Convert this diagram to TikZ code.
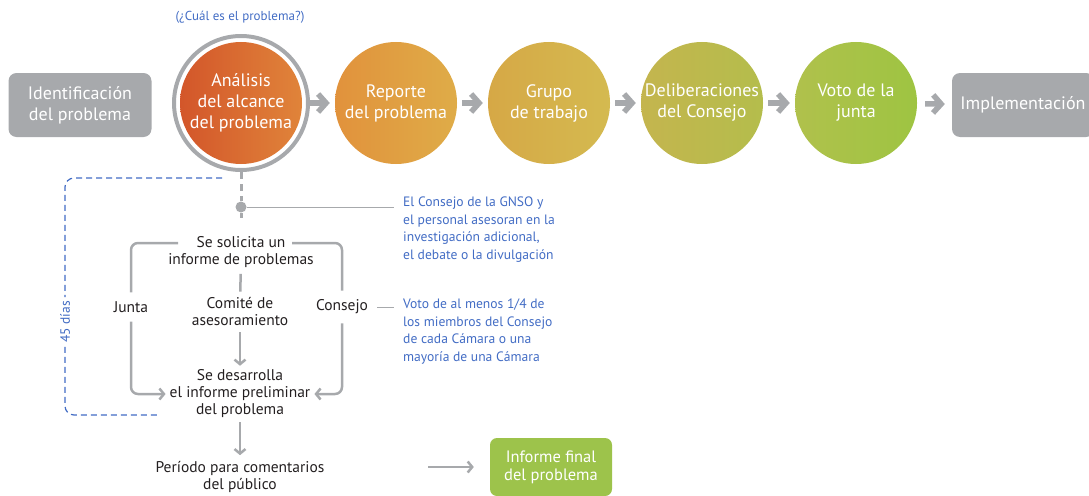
\documentclass[tikz,border=0pt]{standalone}
\usepackage{fontspec}
\setmainfont{PT Sans}
\usetikzlibrary{arrows.meta}

\definecolor{gris}{RGB}{167,169,172}
\definecolor{azul}{RGB}{66,108,196}
\definecolor{texto}{RGB}{35,31,32}
\definecolor{orA}{RGB}{211,86,42}
\definecolor{orB}{RGB}{224,132,58}
\definecolor{reA}{RGB}{225,146,60}
\definecolor{reB}{RGB}{223,172,72}
\definecolor{grA}{RGB}{214,168,70}
\definecolor{grB}{RGB}{212,186,80}
\definecolor{deA}{RGB}{196,181,78}
\definecolor{deB}{RGB}{180,189,76}
\definecolor{voA}{RGB}{176,193,76}
\definecolor{voB}{RGB}{158,196,66}
\definecolor{verde}{RGB}{157,195,75}

\tikzset{
  caja/.style={fill=gris, rounded corners=8pt, text=white, align=center,
    font=\fontsize{18}{21}\selectfont, minimum height=64pt, inner sep=0pt},
  etapa/.style={circle, minimum size=122pt, inner sep=0pt, text=white,
    align=center, font=\fontsize{18}{21}\selectfont},
  flecha/.style={draw=gris, line width=5.5pt,
    -{Straight Barb[length=8pt 0,width=18pt 0]}, shorten <=5pt, shorten >=5pt},
  txt/.style={align=center, text=texto, font=\fontsize{15.5}{17}\selectfont, inner sep=6pt},
  nota/.style={align=left, text=azul, font=\fontsize{13.6}{17.5}\selectfont, inner sep=3pt},
  linea/.style={draw=gris, line width=2.5pt, rounded corners=7pt},
  punta/.style={-{Straight Barb[length=4.5pt 0,width=11pt 0]}},
  plazo/.style={draw=azul, line width=1.2pt, dash pattern=on 6pt off 4pt, rounded corners=9pt}
}

\begin{document}
\begin{tikzpicture}[x=1pt,y=-1pt]
    \useasboundingbox (0,0) rectangle (1089,495);

    \node[caja, minimum width=143pt] (idn) at (80,105) {Identificación\\del problema};
    \node[etapa, left color=orA, right color=orB] (ana) at (241,103) {Análisis\\del alcance\\del problema};
    \draw[gris, line width=4pt] (ana.center) circle (67pt);
    \node[nota, font=\fontsize{13}{14}\selectfont] (pre) at (240,17) {(¿Cuál es el problema?)};
    \node[etapa, left color=reA, right color=reB] (rep) at (396,103) {Reporte\\del problema};
    \node[etapa, left color=grA, right color=grB] (gru) at (549,103) {Grupo\\de trabajo};
    \node[etapa, left color=deA, right color=deB] (del) at (702,103) {Deliberaciones\\del Consejo};
    \node[etapa, left color=voA, right color=voB] (vot) at (856,103) {Voto de la\\junta};
    \node[caja, minimum width=142pt] (imp) at (1023,105) {Implementación};

    \draw[flecha, shorten <=8pt] (ana) -- (rep);
    \draw[flecha] (rep) -- (gru);
    \draw[flecha] (gru) -- (del);
    \draw[flecha] (del) -- (vot);
    \draw[flecha, shorten <=8pt, shorten >=7pt] (vot) -- (imp);

    \node[circle, fill=gris, minimum size=11pt, inner sep=0pt] (dt) at (241,207) {};
    \node[txt] (sol) at (241,252) {Se solicita un\\informe de problemas};
    \node[txt, inner sep=9pt] (jun) at (131,307) {Junta};
    \node[txt] (com) at (240,312) {Comité de\\asesoramiento};
    \node[txt, inner sep=9pt] (con) at (342,307) {Consejo};
    \node[txt, inner sep=4pt] (des) at (240,394) {Se desarrolla\\el informe preliminar\\del problema};
    \node[txt] (per) at (240,477) {Período para comentarios\\del público};
    \node[fill=verde, rounded corners=7pt, text=white, align=center, font=\fontsize{16.5}{18}\selectfont,
      minimum width=122pt, minimum height=58pt, inner sep=0pt] (fin) at (551,467) {Informe final\\del problema};

    \node[nota, anchor=north west] (nt1) at (400,194) {El Consejo de la GNSO y\\el personal asesoran en la\\investigación adicional,\\el debate o la divulgación};
    \node[nota, anchor=north west] (nt2) at (400,296) {Voto de al menos 1/4 de\\los miembros del Consejo\\de cada Cámara o una\\mayoría de una Cámara};
    \node[text=azul, font=\fontsize{13.5}{14}\selectfont, fill=white, rotate=90, inner sep=4pt] (dd) at (65,322) {45 días};

    \coordinate (sl) at (178,243);
    \coordinate (sr) at (292,243);
    \coordinate (ba) at (222,178);
    \coordinate (bb) at (160,415);
    \coordinate (pf) at (428,467);

    \draw[gris, line width=3pt, dash pattern=on 7pt off 5pt, shorten <=8pt] (ana) -- (dt);
    \draw[gris, line width=3pt, shorten >=12pt] (dt) -- (sol);
    \draw[gris, line width=0.8pt, shorten >=6pt] (dt) -- (dt -| nt1.west);
    \draw[gris, line width=0.8pt, shorten >=6pt] (con) -- (con -| nt2.west);

    \draw[linea] (sl) -| (jun);
    \draw[linea, punta] (jun) |- (des);
    \draw[linea] (sr) -| (con);
    \draw[linea, punta] (con) |- (des);
    \draw[linea] (sol) -- (com);
    \draw[linea, punta] (com) -- (des);
    \draw[linea, punta] (des) -- (per);
    \draw[linea, punta, shorten >=16pt] (pf) -- (fin);

    \draw[plazo] (ba) -| (dd);
    \draw[plazo] (dd) |- (bb);
\end{tikzpicture}
\end{document}
